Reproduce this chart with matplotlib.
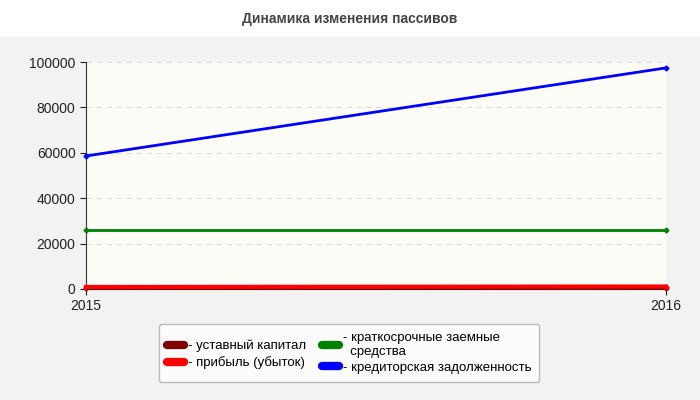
import matplotlib
matplotlib.use("Agg")
import matplotlib.pyplot as plt
from matplotlib.patches import Rectangle
from matplotlib.lines import Line2D

plt.rcParams['font.family'] = ['Liberation Sans', 'DejaVu Sans']

years = [2015, 2016]
ustavny = [300, 300]
pribyl = [900, 1100]
kratkosroch = [26000, 26000]
kreditor = [58600, 97400]
names = ["- уставный капитал", "- прибыль (убыток)", "- краткосрочные заемные\n  средства", "- кредиторская задолженность"]
colors = ["#800000", "#ff0000", "#008000", "#0000ff"]

fig = plt.figure(figsize=(7, 4), dpi=100, facecolor="#f2f2f2")
fig.patches.append(Rectangle((0, 1-37/400), 1, 37/400, transform=fig.transFigure,
                             facecolor="white", edgecolor="none", zorder=-1))
fig.text(0.5, 0.952, "Динамика изменения пассивов", ha="center", va="center", fontsize=10,
         fontweight="bold", color="#444444")
ax = fig.add_axes([86/700, 1-289/400, 580/700, 227/400])
ax.set_zorder(2)
ax.set_facecolor("#fdfdf8")
for s, c in zip([ustavny, pribyl, kratkosroch, kreditor], colors):
    ax.plot(years, s, color=c, lw=2 if c != "#ff0000" else 3, marker="D", ms=2.5, zorder=3, clip_on=False)
ax.set_xlim(2015, 2016)
ax.set_ylim(0, 100000)
ax.set_yticks(range(0, 100001, 20000))
ax.set_xticks(years)
ax.yaxis.grid(True, color="#dddddd", ls=(0, (5, 4)), lw=0.8)
for sp in ["top", "right"]:
    ax.spines[sp].set_visible(False)
for sp in ["left", "bottom"]:
    ax.spines[sp].set_color("#333333")
ax.tick_params(labelsize=10, colors="#222222", length=4)
ax.set_ylabel("тыс.", fontsize=10, color="#666666", fontweight="bold", labelpad=22)

handles = [Line2D([], [], color=c, lw=6, solid_capstyle="round") for c in colors]
leg = fig.legend(handles, names, ncol=2,
                 loc="center", bbox_to_anchor=(349/700, 1-353/400), fontsize=9.5, frameon=True,
                 handlelength=1.3, handletextpad=0.3, columnspacing=1.2, borderpad=0.6, labelspacing=0.3)
leg.get_frame().set_edgecolor("#aaaaaa")
leg.get_frame().set_facecolor("white")
fig.savefig("out.png", dpi=100, facecolor=fig.get_facecolor())
